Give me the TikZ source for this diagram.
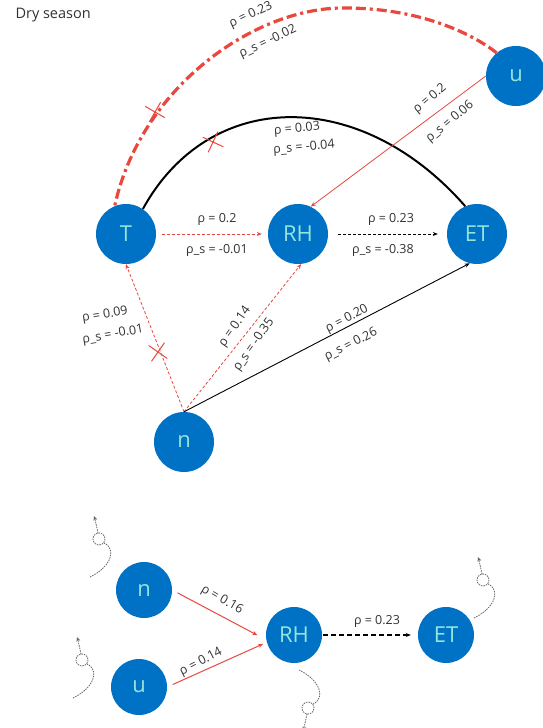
\documentclass[tikz,border=0pt]{standalone}
\usepackage{fontspec}
\setmainfont{Open Sans}
\usepackage{xcolor}
\usepackage{tikz}
\usetikzlibrary{arrows.meta,shapes.misc}

\definecolor{nodeblue}{RGB}{0,114,198}
\definecolor{nodetext}{RGB}{150,228,218}
\definecolor{linkred}{RGB}{232,72,62}
\definecolor{labelgray}{RGB}{50,50,50}

\tikzset{
    curl/.pic={
        \draw[curlline] (-9,38) .. controls (12,28) and (18,10) .. (5,4);
        \draw[curlline] (0,0) circle[radius=6];
        \draw[curlline,-{Stealth[length=4.5pt,width=4pt]}] (-1,-6) .. controls (-2,-14) .. (-5,-23);
    }
}

\begin{document}
\begin{tikzpicture}[x=1pt,y=-1pt,
    var/.style={circle,fill=nodeblue,inner sep=0pt,minimum size=60pt,text=nodetext,font=\fontsize{22}{22}\selectfont},
    smallvar/.style={var,minimum size=56pt},
    lbl/.style={text=labelgray,font=\fontsize{12.5}{14}\selectfont,inner sep=0pt},
    arrowhd/.style={-{Stealth[length=5pt,width=4pt]}},
    thindash/.style={dash pattern=on 3pt off 2pt,line width=0.8pt},
    crossmark/.style={cross out,draw=linkred,line width=1pt,minimum size=15pt,inner sep=0pt},
    curlline/.style={draw=gray!80!black,line width=0.8pt,dash pattern=on 1.5pt off 1pt}]
    \fill[white] (0,0) rectangle (543,728);
    \useasboundingbox (0,0) rectangle (543,728);

    \node[anchor=west,text=labelgray,font=\fontsize{14.5}{14.5}\selectfont] (title) at (12,15) {Dry season};

    % top graph
    \node[var] (T) at (126,234) {T};
    \node[var] (RH) at (298,234) {RH};
    \node[var] (ET) at (477,234) {ET};
    \node[var] (u) at (516,76) {u};
    \node[var] (n) at (184,442) {n};

    \draw[linkred,line width=3.2pt,dash pattern=on 10pt off 4pt on 10pt off 4pt on 3pt off 4pt] (u.130) .. controls (478,38) and (425,7) .. (340,8) .. controls (250,10) and (140,90) .. (T.112);
    \draw[line width=2pt] (T.56) .. controls (210,87) and (361,87) .. (ET.113);
    \draw[linkred,line width=0.8pt,arrowhd] (u.west) -- (RH.65);
    \draw[linkred,thindash,arrowhd,shorten <=6pt,shorten >=6pt] (T) -- (RH);
    \draw[thindash,arrowhd,shorten <=10pt,shorten >=9pt] (RH) -- (ET);
    \draw[linkred,thindash,arrowhd] (n.north) -- (T.south);
    \draw[linkred,thindash,arrowhd] (n.north) -- (RH.-84);
    \draw[line width=0.9pt,arrowhd] (n.north) -- (ET.-104);

    \node[crossmark,rotate=15] (cut1) at (155,112) {};
    \node[crossmark,rotate=20] (cut2) at (213,142) {};
    \node[crossmark,rotate=10] (cut3) at (158,352) {};

    \node[lbl,rotate=25] (uT1) at (251,15) {ρ = 0.23};
    \node[lbl,rotate=25] (uT2) at (268,42) {ρ\_s = -0.02};
    \node[lbl,rotate=5] (TET1) at (297,129) {ρ = 0.03};
    \node[lbl,rotate=5] (TET2) at (304,148) {ρ\_s = -0.04};
    \node[lbl,rotate=40] (uRH1) at (430,99) {ρ = 0.2};
    \node[lbl,rotate=40] (uRH2) at (450,122) {ρ\_s = 0.06};
    \node[lbl] (TRH1) at (217,219) {ρ = 0.2};
    \node[lbl] (TRH2) at (217,250) {ρ\_s = -0.01};
    \node[lbl] (RHET1) at (391,219) {ρ = 0.23};
    \node[lbl] (RHET2) at (383,250) {ρ\_s = -0.38};
    \node[lbl,rotate=10] (nT1) at (105,315) {ρ = 0.09};
    \node[lbl,rotate=10] (nT2) at (113,335) {ρ\_s = -0.01};
    \node[lbl,rotate=55] (nRH1) at (235,327) {ρ = 0.14};
    \node[lbl,rotate=55] (nRH2) at (254,345) {ρ\_s = -0.35};
    \node[lbl,rotate=27] (nET1) at (347,319) {ρ = 0.20};
    \node[lbl,rotate=27] (nET2) at (351,345) {ρ\_s = 0.26};

    % bottom graph
    \node[smallvar] (n2) at (144,590) {n};
    \node[smallvar] (u2) at (139,687) {u};
    \node[smallvar] (RH2) at (294,635) {RH};
    \node[smallvar] (ET2) at (446,635) {ET};

    \draw[linkred,line width=1pt,arrowhd,shorten <=6pt,shorten >=10pt] (n2.east) -- (RH2.190);
    \draw[linkred,line width=1pt,arrowhd,shorten <=6pt,shorten >=4pt] (u2.east) -- (RH2.195);
    \draw[line width=1.2pt,dash pattern=on 5pt off 3pt,arrowhd,shorten <=1pt,shorten >=7pt] (RH2.east) -- (ET2.west);

    \node[lbl,rotate=-30] (n2RH1) at (222,600) {ρ = 0.16};
    \node[lbl,rotate=27] (u2RH1) at (201,662) {ρ = 0.14};
    \node[lbl] (RH2ET1) at (377,621) {ρ = 0.23};

    \pic at (99,539) {curl};
    \pic at (82,660) {curl};
    \pic at (483,580) {curl};
    \pic[yscale=-1] at (308,708) {curl};
\end{tikzpicture}
\end{document}
